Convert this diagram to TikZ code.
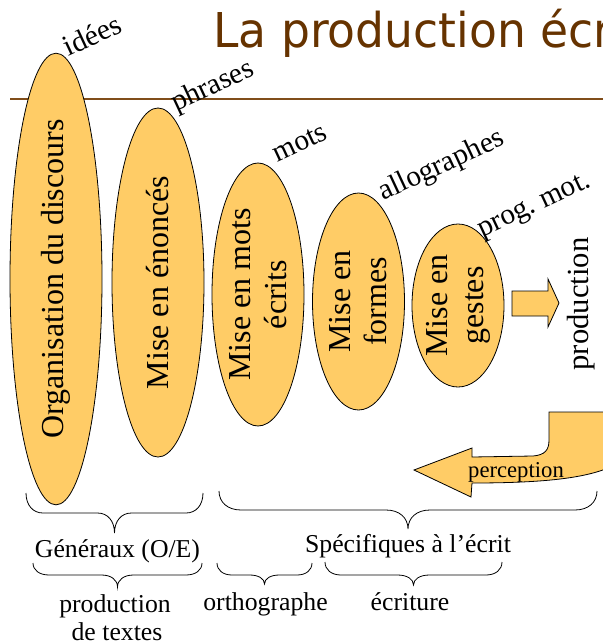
\documentclass[tikz,border=0pt]{standalone}
\usepackage{fontspec}
\setmainfont{Liberation Serif}
\newfontfamily\titlefont{DejaVu Sans}
\usetikzlibrary{shapes.geometric}
\definecolor{ellfill}{RGB}{255,204,102}
\definecolor{titlebrown}{RGB}{102,51,0}
\definecolor{rulebrown}{RGB}{128,77,26}
\newcommand\mybrace[6]{%
  \pgfmathsetmacro\bxc{(#1+#2)/2}%
  \draw[bracestyle] (#1,#3) .. controls (#1,{#3+0.6*(#4-#3)}) and ({#1+0.4*#6},#4) .. ({#1+#6},#4)
    -- ({\bxc-#6},#4) .. controls ({\bxc-0.4*#6},#4) and (\bxc,{#4+0.4*(#5-#4)}) .. (\bxc,#5)
    .. controls (\bxc,{#4+0.4*(#5-#4)}) and ({\bxc+0.4*#6},#4) .. ({\bxc+#6},#4)
    -- ({#2-#6},#4) .. controls ({#2-0.4*#6},#4) and (#2,{#3+0.6*(#4-#3)}) .. (#2,#3);%
}
\begin{document}
\begin{tikzpicture}[x=0.75pt,y=-0.75pt,
  ell/.style={ellipse, draw=black, line width=0.6pt, fill=ellfill, rotate=90,
    inner sep=0pt, align=center, font=\fontsize{24}{27}\selectfont},
  lab/.style={font=\fontsize{22}{26}\selectfont, inner sep=0pt, rotate=25},
  sub/.style={font=\fontsize{19.3}{23}\selectfont, inner sep=0pt, anchor=base},
  blockarrow/.style={draw=black, line width=0.6pt, fill=ellfill, line join=miter},
  bracestyle/.style={draw=black, line width=0.6pt},
  rulestyle/.style={draw=rulebrown, line width=1.5pt}]
\useasboundingbox (0,0) rectangle (603,644);
\clip (0,0) rectangle (603,644);
% title and rule
\coordinate (r1) at (10,99);
\coordinate (r2) at (603,99);
\draw[rulestyle] (r1) -- (r2);
\node[anchor=base west, inner sep=0pt, xscale=0.95, text=titlebrown, font=\titlefont\fontsize{36}{40}\selectfont] (title) at (213,47) {La production écrite};
% ellipses
\node[ell, minimum width=336pt, minimum height=69pt] (e1) at (56,279) {Organisation du discours};
\node[ell, minimum width=261.75pt, minimum height=69pt] (e2) at (158,282.5) {Mise en énoncés};
\node[ell, minimum width=197.25pt, minimum height=69pt] (e3) at (258,294.5) {Mise en mots\\écrits};
\node[ell, minimum width=162.75pt, minimum height=69pt] (e4) at (358.5,301.5) {Mise en\\formes};
\node[ell, minimum width=122.25pt, minimum height=69pt] (e5) at (458,305.5) {Mise en\\gestes};
% slanted labels
\node[lab] (l1) at (92,35) {idées};
\node[lab] (l2) at (213,87) {phrases};
\node[lab] (l3) at (300,143) {mots};
\node[lab] (l4) at (442,166) {allographes};
\node[lab] (l5) at (535,207) {prog.\ mot.};
% production arrow
\draw[blockarrow] (512,291) -- (548,291) -- (548,279) -- (559,303) -- (548,327) -- (548,316) -- (512,316) -- cycle;
\node[rotate=90, inner sep=0pt, font=\fontsize{23}{27}\selectfont] (prod) at (581,304) {production};
% perception arrow
\draw[blockarrow] (549,412) -- (640,412) -- (640,425)
  .. controls (640,470) and (590,483) .. (472,483) -- (471,497) -- (414,470) -- (472,448) -- (472,457)
  -- (533,456) .. controls (545,455) and (549,450) .. (549,440) -- cycle;
\node[anchor=base, inner sep=0pt, font=\fontsize{17}{20}\selectfont] (perc) at (516,477) {perception};
% braces
\mybrace{26}{203}{493}{513}{533}{17}
\mybrace{219}{597}{491}{510}{529}{22}
\mybrace{33}{202}{563}{575}{587}{16}
\mybrace{217}{312}{563}{575}{584}{15}
\mybrace{325}{502}{562}{575}{585}{16}
% bottom texts
\node[sub] (gen) at (117.5,557) {Généraux (O/E)};
\node[sub] (spec) at (408,552) {Spécifiques à l’écrit};
\node[sub] (pt1) at (115,612) {production};
\node[sub] (pt2) at (117,640) {de textes};
\node[sub] (orth) at (265.5,610) {orthographe};
\node[sub] (ecr) at (410,610) {écriture};
\end{tikzpicture}
\end{document}
